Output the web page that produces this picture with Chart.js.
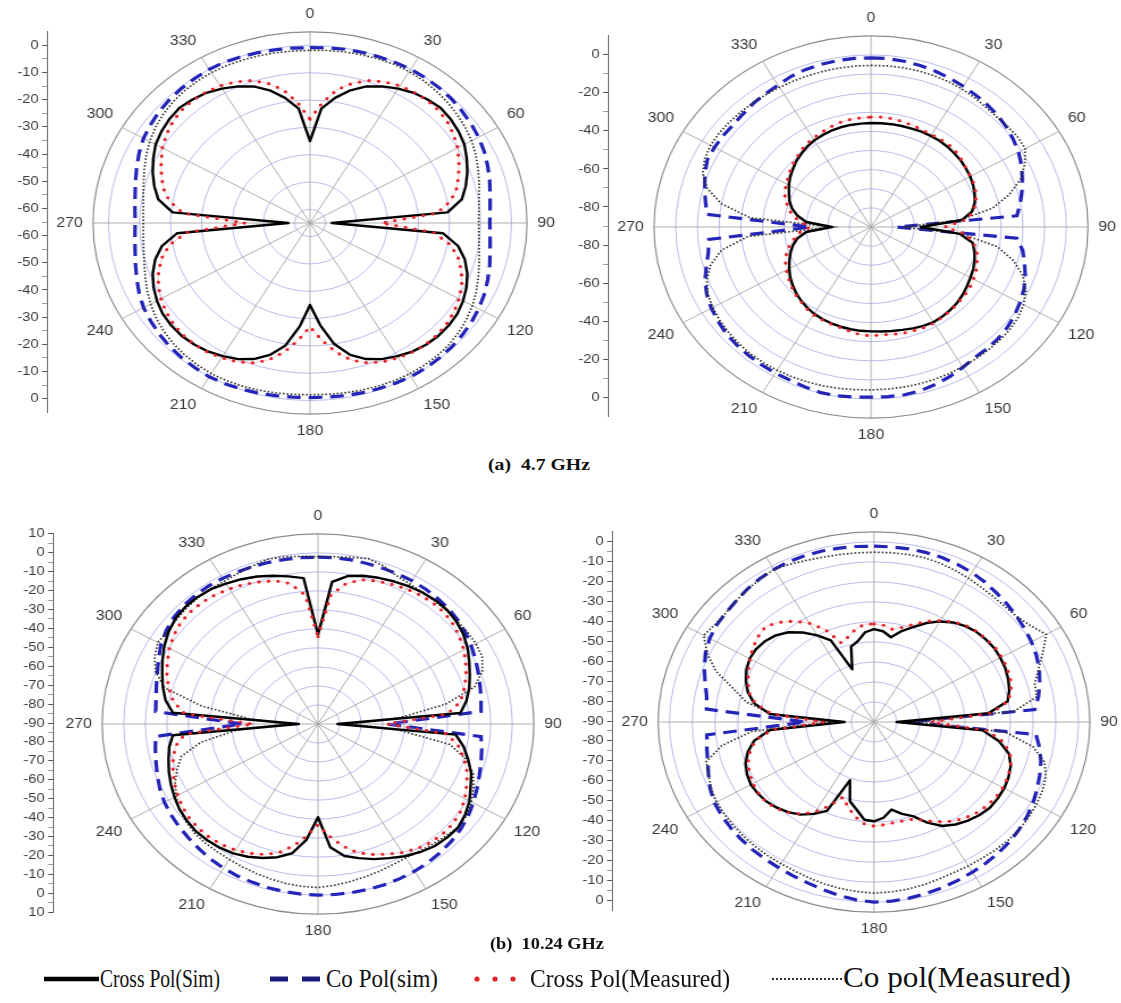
<!DOCTYPE html>
<html><head><meta charset="utf-8">
<script src="https://cdn.jsdelivr.net/npm/chart.js@4.4.1/dist/chart.umd.min.js"></script>
<style>
html,body{margin:0;padding:0;background:#fff;}
#stage{position:relative;width:1121px;height:1003px;overflow:hidden;background:#fff;}
.wrap{position:absolute;left:0;top:0;}
.wrap canvas{display:block;}
.cap{position:absolute;font-family:'Liberation Serif','Times New Roman',serif;font-weight:bold;font-size:16px;color:#111;white-space:pre;transform-origin:0 50%;line-height:1.1;}
.lg{position:absolute;font-family:'Liberation Serif','Times New Roman',serif;font-size:26px;color:#111;white-space:pre;transform-origin:0 50%;line-height:1.1;}
.lg2{position:absolute;font-family:'Liberation Serif','Times New Roman',serif;font-size:29px;color:#111;white-space:pre;transform-origin:0 50%;line-height:1.1;}
</style></head><body><div id="stage"></div>
<script>
// ---------- categories ----------
const ANGLES = [0,5,10,15,20,25,30,35,40,45,50,55,60,65,70,75,80,85,
 90,95,100,105,110,115,120,125,130,135,140,145,150,155,160,165,170,175,
 180,185,190,195,200,205,210,215,220,225,230,235,240,245,250,255,260,265,
 270,275,280,285,290,295,300,305,310,315,320,325,330,335,340,345,350,355];
const ANGLE_LABELS = [0,30,60,90,120,150,180,210,240,270,300,330];

// ---------- tick labels / rings ----------
const TL_AXIS = [0,-10,-20,-30,-40,-50,-60];
const TR_AXIS = [0,-20,-40,-60,-80];
const BL_AXIS = [10,0,-10,-20,-30,-40,-50,-60,-70,-80,-90];
const BR_AXIS = [0,-10,-20,-30,-40,-50,-60,-70,-80,-90];
const TL_RINGS = [-65,-60,-50,-40,-30,-20,-10,0,5];
const TR_RINGS = [-90,-80,-70,-60,-50,-40,-30,-20,-10,0,10];
const BL_RINGS = [-90,-80,-70,-60,-50,-40,-30,-20,-10,0,10];
const BR_RINGS = [-90,-80,-70,-60,-50,-40,-30,-20,-10,0,5];

// ---------- (a) 4.7 GHz, left ----------
const TL_CROSS_SIM = [-35,-23,-18.5,-14.7,-11.8,-9.8,-8.2,-6.8,-6,-5.4,-5.8,-6.5,-7.5,-9.2,-11,-13,-15.3,-20.5,
 -58,-22,-16.5,-13.3,-11,-9.3,-8,-7,-6.6,-6.5,-6.8,-7.5,-8.7,-10,-12,-15,-20,-27.5,
 -35,-27,-19.5,-15,-12,-10,-8.7,-7.6,-6.9,-6.5,-6.6,-7,-8,-9.3,-11,-13.3,-16.5,-22,
 -58,-20.5,-15.3,-13,-11,-9.2,-7.5,-6.5,-5.8,-5.4,-6,-6.8,-8.2,-9.8,-11.8,-14.7,-18.5,-23];
const TL_CROSS_MEAS = [-27,-21,-15.5,-12,-9.5,-8,-7,-6.5,-6.3,-6.5,-7.2,-8.5,-10,-12,-14,-16,-19,-24,
 -42,-25,-19,-15.5,-13,-11,-9.5,-8.3,-7.5,-7,-7,-7.3,-8,-9,-10.5,-13,-17,-22,
 -27,-22,-17,-13,-10.5,-9,-8,-7.3,-7,-7,-7.5,-8.3,-9.5,-11,-13,-15.5,-19,-25,
 -44,-24,-19,-16,-14,-12,-10,-8.5,-7.2,-6.5,-6.3,-6.5,-7,-8,-9.5,-12,-15.5,-21];
const TL_CO_SIM = [-0.8,-0.6,-0.4,-0.3,-0.2,-0.1,0,-0.1,-0.3,-0.6,-1.1,-1.6,-2.2,-3,-4,-5,-6,-6.7,
 -7,-6.7,-6,-5,-4,-3,-2.2,-1.5,-1,-0.6,-0.3,-0.1,0,-0.2,-0.4,-0.6,-0.8,-1,
 -1.1,-1,-0.8,-0.5,-0.3,-0.1,0,-0.3,-0.6,-1,-1.6,-2.3,-3,-4.2,-5.5,-6.7,-7.7,-8.3,
 -8.6,-8.3,-7.7,-6.7,-5.5,-4.2,-3,-2.2,-1.5,-1,-0.6,-0.3,0,0,-0.2,-0.4,-0.6,-0.7];
const TL_CO_MEAS = [-1.8,-1.6,-1.4,-1.2,-1,-0.9,-1,-1.3,-1.8,-2.4,-3.1,-3.9,-4.8,-6,-7.3,-8.5,-9.6,-10.3,
 -10.6,-10.3,-9.6,-8.5,-7.2,-5.8,-4.5,-3.4,-2.5,-1.8,-1.4,-1.2,-1.1,-1.2,-1.4,-1.6,-1.8,-2,
 -2.1,-2,-1.8,-1.6,-1.4,-1.3,-1.3,-1.6,-2,-2.6,-3.4,-4.4,-5.6,-7,-8.4,-9.6,-10.5,-11,
 -11.2,-11,-10.4,-9.4,-8.1,-6.7,-5.3,-4.1,-3.1,-2.4,-1.9,-1.6,-1.4,-1.4,-1.5,-1.6,-1.7,-1.8];

// ---------- (a) 4.7 GHz, right ----------
const TR_CROSS_SIM = [-35.6,-35.5,-35.4,-35.3,-35.2,-35,-35,-35,-35.2,-35.6,-36,-36.6,-37.2,-38.1,-39.2,-40.5,-42.7,-48,
 -67,-49,-42.5,-40.7,-39.2,-38,-37.1,-36,-34.9,-33.9,-33.3,-32.8,-32.5,-32.9,-33.6,-34.3,-34.8,-35.1,
 -35.4,-35.5,-35.7,-36,-36.4,-36.9,-37.6,-38.6,-39.8,-41.2,-42.8,-44.5,-46.5,-48.5,-50.5,-52.7,-55.5,-60,
 -72,-60,-55.5,-52.3,-50,-48.3,-46.3,-44.5,-43,-41.3,-40,-38.7,-37.7,-37,-36.4,-36,-35.8,-35.7];
const TR_CROSS_MEAS = [-32.5,-32.3,-32.5,-33,-33.5,-34,-34.2,-34,-34,-34.5,-35.5,-36.5,-37,-37.5,-38.5,-40,-42,-46,
 -56,-46,-42,-39.5,-38,-36.5,-35.5,-34.5,-34,-33.5,-33,-32.5,-32,-32,-32.3,-32.5,-33,-33.5,
 -33,-33.5,-34.5,-35.5,-36,-36.5,-37,-38,-39.5,-40.5,-42,-43.5,-45,-46.5,-48.5,-51,-54,-57,
 -62,-57,-53,-50.5,-48,-46,-45,-43.5,-42,-40.5,-39,-37.5,-36.5,-35.5,-34.5,-33.5,-33,-32.7];
const TR_CO_SIM = [-1.5,-1.6,-2,-2.6,-3.3,-4.1,-5,-5.8,-6.6,-7.4,-8.6,-10,-11.5,-13.5,-15.8,-18,-20.2,-22.5,
 -78,-22.5,-19,-16.8,-14.3,-12.3,-10.8,-9.3,-8.1,-7.3,-6.9,-6.6,-5.3,-3.8,-2.5,-1.4,-0.9,-0.9,
 -1,-0.7,-0.3,-0.3,-1,-1.6,-1.8,-2,-2.3,-2.6,-3,-4,-5,-6.5,-8.6,-11.5,-13.9,-15,
 -62,-14.2,-12.5,-10.7,-8.5,-6.8,-6.7,-6.8,-7,-6.5,-5.6,-5,-4.3,-3,-2.3,-1.9,-1.6,-1.5];
const TR_CO_MEAS = [-5.5,-5.4,-5.4,-5.5,-5.7,-6,-6.5,-7.2,-8,-8.3,-8,-7.6,-8,-11.8,-16.5,-24,-33,-49,
 -75,-48,-31,-22,-15.5,-11.2,-8.8,-7.3,-6.5,-6.2,-6,-5.8,-5.6,-5.3,-5.1,-5,-4.9,-4.9,
 -4.8,-4.6,-4.3,-4,-3.8,-3.6,-3.5,-3.4,-3.5,-3.8,-4.3,-4.9,-5.8,-7,-9.5,-13.5,-20,-33,
 -72,-34,-20,-11.8,-7.5,-5.4,-4.6,-4.5,-4.7,-5,-5.3,-5.5,-5.6,-5.7,-5.7,-5.6,-5.6,-5.5];

// ---------- (b) 10.24 GHz, left ----------
const BL_CROSS_SIM = [-43,-15,-11,-9.3,-8.2,-7.2,-6.3,-5.6,-5.2,-5.3,-6.3,-7.8,-10,-12.7,-15.2,-17.5,-20.2,-23.8,
 -81,-26,-21.5,-18,-14.5,-12,-9,-6.8,-5.3,-5.5,-6.1,-7.7,-9.7,-12.2,-14.4,-17,-19.5,-25,
 -41,-29,-21,-17.5,-15,-13,-11.5,-10.6,-10.2,-10.1,-10.8,-11.7,-13.2,-14.8,-16.5,-18.3,-20,-22.5,
 -81,-22.5,-18.3,-15.6,-13.2,-10.5,-7.8,-5.5,-3.8,-3,-3,-3.5,-4.8,-6,-7.5,-9.3,-11.2,-13];
const BL_CROSS_MEAS = [-44,-22,-15,-11.5,-10,-9,-8,-7.3,-7,-7.3,-8.3,-10,-12,-14.5,-17,-20,-23,-30,
 -58,-30,-24,-20,-16.5,-14,-11.5,-9.5,-8.5,-8.3,-8.8,-10,-12,-14.5,-17,-20,-25,-31,
 -37,-31,-25,-20,-17,-15,-13.5,-12.5,-12,-12,-12.5,-13.5,-15,-16.5,-18.5,-20.5,-23,-28,
 -60,-28,-22,-18.5,-15.5,-13,-10.5,-8.5,-7,-6.5,-6.5,-7,-8,-9,-10.5,-12,-15,-22];
const BL_CO_SIM = [-2.3,-2.3,-2.4,-2.6,-2.8,-2.9,-3,-3.3,-3.8,-4.4,-5.3,-6.5,-8,-9.5,-11,-12.3,-13.3,-14.2,
 -58,-14.2,-13,-11.8,-10.5,-8.8,-7,-5.2,-3.8,-2.7,-1.8,-1.1,-0.6,-0.3,-0.1,0,0,0,
 0,-0.2,-0.5,-0.9,-1.4,-1.8,-2.5,-3.3,-4.3,-5.2,-6,-6.8,-7.8,-9.2,-10.8,-12.3,-13.5,-14.5,
 -55,-14.5,-13.8,-12.5,-10.8,-8.5,-6,-4.2,-2.8,-2,-1.6,-1.5,-1.6,-1.8,-1.9,-2,-2.1,-2.2];
const BL_CO_MEAS = [-2,-1.7,-1,0,-1.5,-4,-5,-5.5,-5.8,-5.8,-5.8,-5.6,-5.5,-6.1,-9,-15,-30,-52,
 -75,-52,-28,-19,-13.5,-10.5,-8,-6,-5.5,-6.5,-7.5,-8.3,-8.7,-8.3,-7.5,-6.7,-5.8,-4.8,
 -4,-4.3,-4.8,-5.6,-6.4,-7.1,-7.8,-8.2,-8.5,-9,-10.2,-11.7,-14,-17,-20.5,-24.5,-35,-52,
 -75,-58,-35,-16.5,-10,-6.5,-4.3,-5,-4.5,-3.8,-3.3,-3.2,-3.3,-2.5,-1.5,-0.3,-0.7,-1.5];

// ---------- (b) 10.24 GHz, right ----------
const BR_CROSS_SIM = [-43.6,-44.5,-47,-43,-39.5,-35.5,-32,-29.3,-27.5,-26.3,-25.8,-25.5,-25.8,-26.3,-27.2,-28.4,-30.3,-39.5,
 -80,-42,-34,-28.5,-26,-24.7,-23.8,-23.5,-23.4,-24.3,-25.7,-27.5,-30,-34.5,-40,-42.5,-45.6,-42,
 -40.4,-41,-45.6,-49,-59,-41,-37,-33.5,-31.2,-29.5,-28.2,-27.6,-27.4,-28.3,-29.8,-32.5,-36.5,-44,
 -77,-44,-36.5,-32.5,-30,-28,-26.8,-26.6,-27.3,-28.8,-31.5,-35.4,-40,-45,-62,-51,-49,-45];
const BR_CROSS_MEAS = [-41,-41.5,-43,-41,-38,-34.5,-31.5,-29,-27,-26,-25.5,-25,-25.2,-25.5,-26.2,-27.5,-30,-38,
 -65,-40,-32,-28,-26,-25,-24.5,-24.5,-25,-26,-27.5,-29.5,-32.5,-35.5,-38.5,-39,-39,-38.5,
 -38,-39,-42,-46,-50,-44,-38,-34,-31,-29,-28,-28,-28.5,-29.5,-31,-33.5,-37,-45,
 -68,-45,-37,-33,-31,-29,-27,-25,-23.5,-22.5,-25,-28.5,-33,-39,-48,-46,-43,-41];
const BR_CO_SIM = [-2.2,-2.2,-2.2,-2.3,-2.6,-3.1,-3.8,-4.8,-6,-7,-8,-9,-10,-11.2,-12.6,-14.5,-16.5,-19,
 -75,-18.5,-16,-14,-12.4,-10.8,-9.2,-7.8,-6.6,-5.5,-4.7,-4,-3.4,-2.7,-2,-1.3,-0.7,-0.2,
 0,-0.8,-2,-3.3,-4.5,-5.3,-6,-6.4,-6.8,-7.2,-7.7,-8.2,-9,-10.5,-12.5,-14.2,-15.3,-16.2,
 -60,-16,-15.2,-13,-10.5,-8.2,-6.5,-5.5,-5,-4.3,-3.3,-2.5,-2,-1.6,-1.5,-1.6,-1.8,-2];
const BR_CO_MEAS = [-5.2,-5.1,-5,-5,-5.5,-6.2,-7,-7.8,-8.3,-8.5,-8,-6,-2.5,-8,-13,-16.8,-17.2,-28,
 -72,-32,-19,-12.3,-9.5,-8.3,-7.5,-7,-6.5,-6.5,-6.7,-7,-7,-7,-6.5,-5.8,-5.2,-4.8,
 -4.5,-5,-5.5,-6.2,-7,-7.8,-8.2,-8.5,-8.8,-9,-9.3,-9.6,-10,-11,-12.5,-13.6,-22,-36,
 -70,-45,-33,-26,-16,-9,-3.4,-4.8,-5,-4.3,-3.5,-2.7,-2,-3,-4,-4.7,-5,-5.2];

// ---------- layout of the four panels ----------
const PLOTS = [
 {cx:310, cy:223, ry:191, sx:1.135, rmin:-65, rmax:5,  rings:TL_RINGS, axis:TL_AXIS, axisX:48,
  crossSim:TL_CROSS_SIM, crossMeas:TL_CROSS_MEAS, coSim:TL_CO_SIM, coMeas:TL_CO_MEAS},
 {cx:871, cy:227, ry:191, sx:1.135, rmin:-90, rmax:10, rings:TR_RINGS, axis:TR_AXIS, axisX:609,
  crossSim:TR_CROSS_SIM, crossMeas:TR_CROSS_MEAS, coSim:TR_CO_SIM, coMeas:TR_CO_MEAS},
 {cx:318, cy:724, ry:190, sx:1.135, rmin:-90, rmax:10, rings:BL_RINGS, axis:BL_AXIS, axisX:54,
  crossSim:BL_CROSS_SIM, crossMeas:BL_CROSS_MEAS, coSim:BL_CO_SIM, coMeas:BL_CO_MEAS},
 {cx:874, cy:722, ry:190, sx:1.135, rmin:-90, rmax:5,  rings:BR_RINGS, axis:BR_AXIS, axisX:613,
  crossSim:BR_CROSS_SIM, crossMeas:BR_CROSS_MEAS, coSim:BR_CO_SIM, coMeas:BR_CO_MEAS}
];

const stage = document.getElementById('stage');
Chart.defaults.font.family = "'Liberation Sans', Arial, sans-serif";
Chart.defaults.color = '#3a3a3a';

function radarConfig(p){
  return {
    type:'radar',
    data:{labels:ANGLES, datasets:[
      {label:'Cross Pol(Measured)', data:p.crossMeas, borderColor:'#e3232c', borderWidth:3.2, borderDash:[0,8.5], borderCapStyle:'round', order:0},
      {label:'Cross Pol(Sim)', data:p.crossSim, borderColor:'#000000', borderWidth:2.4, borderJoinStyle:'round', order:1},
      {label:'', data:p.crossMeas, borderColor:'rgba(236,140,140,0.55)', borderWidth:0.8, order:2},
      {label:'Co pol(Measured)', data:p.coMeas, borderColor:'#2e2e26', borderWidth:1.7, borderDash:[1.5,1.9], order:3},
      {label:'Co Pol(sim)', data:p.coSim, borderColor:'#2424b8', borderWidth:3.2, borderDash:[12,7], order:4}
    ]},
    options:{
      responsive:false, maintainAspectRatio:false, animation:false, devicePixelRatio:1,
      layout:{padding:0},
      elements:{point:{radius:0, hoverRadius:0, hitRadius:0}, line:{fill:false, tension:0}},
      plugins:{legend:{display:false}, tooltip:{enabled:false}},
      scales:{r:{
        min:p.rmin, max:p.rmax,
        afterBuildTicks:(s)=>{ s.ticks = p.rings.map(v=>({value:v})); },
        ticks:{display:false},
        grid:{circular:true,
          color:(c)=> (c.tick && c.tick.value===p.rmax) ? '#8c8c8c' : 'rgba(130,135,225,0.7)',
          lineWidth:(c)=> (c.tick && c.tick.value===p.rmax) ? 1.2 : 0.8},
        angleLines:{display:true, color:'#a6a6a6', lineWidth:(c)=> (ANGLE_LABELS.indexOf(ANGLES[c.index])>=0) ? 0.9 : 0},
        pointLabels:{display:true, padding:9, color:'#3a3a3a', font:{size:14},
          callback:(label)=> ANGLE_LABELS.indexOf(Number(label))>=0 ? String(label) : ''}
      }}
    }
  };
}

function makeRadar(p){
  const wrap = document.createElement('div'); wrap.className='wrap'; stage.appendChild(wrap);
  const W = Math.round(2*p.ry + 150);
  let H = Math.round(2*p.ry + 54);
  let chart = null, cv = null;
  for (let k=0;k<4;k++){
    if (chart){ chart.destroy(); wrap.removeChild(cv); }
    cv = document.createElement('canvas'); cv.width=W; cv.height=H;
    cv.style.width=W+'px'; cv.style.height=H+'px';
    wrap.appendChild(cv);
    chart = new Chart(cv, radarConfig(p));
    const diff = p.ry - chart.scales.r.drawingArea;
    if (Math.abs(diff) < 0.6) break;
    H = Math.round(H + 2*diff);
  }
  const r = chart.scales.r;
  p.actualR = r.drawingArea;
  wrap.style.left = (p.cx - r.xCenter)+'px';
  wrap.style.top = (p.cy - r.yCenter)+'px';
  wrap.style.transformOrigin = r.xCenter+'px '+r.yCenter+'px';
  wrap.style.transform = 'scaleX('+p.sx+')';
}

function makeAxis(p){
  const wrap = document.createElement('div'); wrap.className='wrap'; stage.appendChild(wrap);
  const R = p.actualR;
  const W = 70, H = Math.round(2*R) + 20;
  const cv = document.createElement('canvas'); cv.width=W; cv.height=H;
  cv.style.width=W+'px'; cv.style.height=H+'px'; wrap.appendChild(cv);
  const rng = p.rmax - p.rmin;
  const major = [];
  p.axis.forEach(d=>{ const v=d-p.rmin; if (v===0) major.push(0); else { major.push(v); major.push(-v); } });
  major.sort((a,b)=>a-b);
  const minor = [];
  for (let i=0;i<major.length-1;i++) minor.push((major[i]+major[i+1])/2);
  const all = major.concat(minor).sort((a,b)=>a-b);
  const majorSet = new Set(major);
  const chart = new Chart(cv, {
    type:'scatter', data:{datasets:[]},
    options:{responsive:false, maintainAspectRatio:false, animation:false, devicePixelRatio:1,
      layout:{padding:{top:10,bottom:10,left:0,right:0}},
      plugins:{legend:{display:false}, tooltip:{enabled:false}},
      scales:{
        x:{display:false, min:0, max:1},
        y:{type:'linear', position:'left', min:-rng, max:rng,
          afterBuildTicks:(s)=>{ s.ticks = all.map(v=>({value:v})); },
          ticks:{autoSkip:false, padding:3, color:'#3a3a3a', font:{size:13},
            callback:(v)=> majorSet.has(v) ? String(Math.abs(v)+p.rmin) : ''},
          grid:{drawOnChartArea:false, drawTicks:true, tickLength:5,
            tickColor:(c)=> (c.tick && majorSet.has(c.tick.value)) ? '#555' : '#9a9a9a', tickWidth:1},
          border:{display:true, color:'#7a7a7a', width:1}
        }
      }
    }
  });
  const ax = chart.chartArea.left;
  wrap.style.left = (p.axisX - ax)+'px';
  wrap.style.top = (p.cy - R - chart.chartArea.top)+'px';
  wrap.style.transformOrigin = ax+'px 0px';
  wrap.style.transform = 'scaleX('+p.sx+')';
}

PLOTS.forEach(p=>{ makeRadar(p); makeAxis(p); });

// ---------- captions and legend ----------
function addText(txt, cls, left, width, cy){
  const s = document.createElement('div'); s.className = cls; s.textContent = txt; stage.appendChild(s);
  const b = s.getBoundingClientRect();
  s.style.left = left+'px'; s.style.top = (cy - b.height/2)+'px';
  s.style.transform = 'scaleX('+(width/b.width)+')';
}
addText('(a)  4.7 GHz', 'cap', 488, 102, 465);
addText('(b)  10.24 GHz', 'cap', 490, 114, 944);

const svgNS = 'http://www.w3.org/2000/svg';
const svg = document.createElementNS(svgNS,'svg');
svg.setAttribute('width','1121'); svg.setAttribute('height','40');
svg.style.position='absolute'; svg.style.left='0px'; svg.style.top='959px';
svg.innerHTML =
 '<line x1="44" y1="20" x2="99" y2="20" stroke="#000" stroke-width="4.5"/>'+
 '<line x1="270" y1="20" x2="320" y2="20" stroke="#1a1a7a" stroke-width="5" stroke-dasharray="18 14"/>'+
 '<g fill="#e3232c"><circle cx="477" cy="20" r="2.6"/><circle cx="495" cy="20" r="2.6"/><circle cx="513" cy="20" r="2.6"/></g>'+
 '<line x1="772" y1="20" x2="842" y2="20" stroke="#333" stroke-width="2" stroke-dasharray="2 2"/>';
stage.appendChild(svg);
addText('Cross Pol(Sim)', 'lg', 100, 120, 979);
addText('Co Pol(sim)', 'lg', 326, 112, 979);
addText('Cross Pol(Measured)', 'lg', 530, 200, 979);
addText('Co pol(Measured)', 'lg2', 843, 228, 978);
</script></body></html>
